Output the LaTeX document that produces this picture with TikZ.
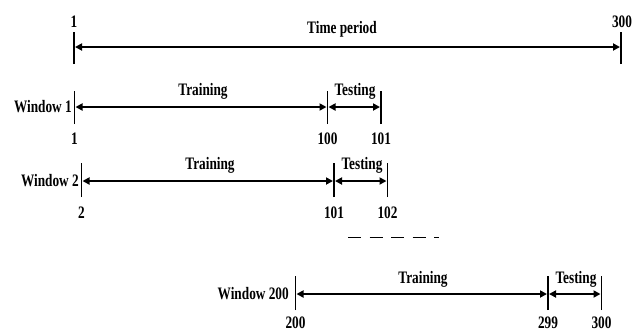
\documentclass[tikz,border=0pt]{standalone}
\usepackage{fontspec}
\setmainfont{Liberation Serif}[FakeStretch=0.76]
\usetikzlibrary{arrows.meta}
\begin{document}
\begin{tikzpicture}[x=1pt,y=-1pt,
  every node/.style={font=\fontsize{17.5}{17.5}\selectfont\bfseries, inner sep=0pt},
  span/.style={line width=2pt, {Triangle[length=7pt,width=7pt]}-{Triangle[length=7pt,width=7pt]}, shorten <=1pt, shorten >=1pt},
  tick/.style={line width=1.7pt},
]
\useasboundingbox (0,0) rectangle (642,333);

% ---- full time period ----
\coordinate (t0) at (74,47);
\coordinate (t1) at (621,47);
\foreach \c in {t0,t1}{\draw[tick] ([yshift=-17pt]\c) -- ([yshift=15pt]\c);}
\draw[span] (t0) -- (t1);
\node (t0l) at (74,22) {1};
\node (t1l) at (622,22) {300};
\node (tlab) at (342,29) {Time period};

% ---- window 1 ----
\coordinate (a0) at (74.5,107);
\coordinate (a1) at (327.5,107);
\coordinate (a2) at (381,107);
\foreach \c in {a0,a1,a2}{\draw[tick] ([yshift=-17pt]\c) -- ([yshift=16pt]\c);}
\draw[span] (a0) -- (a1);
\draw[span] (a1) -- (a2);
\node[anchor=east] (w1) at (72,107) {Window 1};
\node (a01) at (203,91) {Training};
\node (a12) at (355,91) {Testing};
\node (a0l) at (74.5,139) {1};
\node (a1l) at (327.5,139) {100};
\node (a2l) at (381,139) {101};

% ---- window 2 ----
\coordinate (b0) at (81.5,181);
\coordinate (b1) at (334,181);
\coordinate (b2) at (387.5,181);
\foreach \c in {b0,b1,b2}{\draw[tick] ([yshift=-16pt]\c) -- ([yshift=18pt]\c);}
\draw[span] (b0) -- (b1);
\draw[span] (b1) -- (b2);
\node[anchor=east] (w2) at (79,181) {Window 2};
\node (b01) at (210,165) {Training};
\node (b12) at (362,165) {Testing};
\node (b0l) at (81.5,213) {2};
\node (b1l) at (334,213) {101};
\node (b2l) at (387.5,213) {102};

% ---- gap between windows ----
\coordinate (d0) at (348,237.5);
\coordinate (d1) at (439,237.5);
\draw[line width=1.8pt, dash pattern=on 13pt off 8.5pt] (d0) -- (d1);

% ---- window 200 ----
\coordinate (c0) at (295.5,294);
\coordinate (c1) at (548,294);
\coordinate (c2) at (601.5,294);
\foreach \c in {c0,c1,c2}{\draw[tick] ([yshift=-16pt]\c) -- ([yshift=18pt]\c);}
\draw[span] (c0) -- (c1);
\draw[span] (c1) -- (c2);
\node[anchor=east] (w3) at (289,294) {Window 200};
\node (c01) at (423,279) {Training};
\node (c12) at (576,279) {Testing};
\node (c0l) at (295.5,323) {200};
\node (c1l) at (548,323) {299};
\node (c2l) at (601.5,323) {300};
\end{tikzpicture}
\end{document}
